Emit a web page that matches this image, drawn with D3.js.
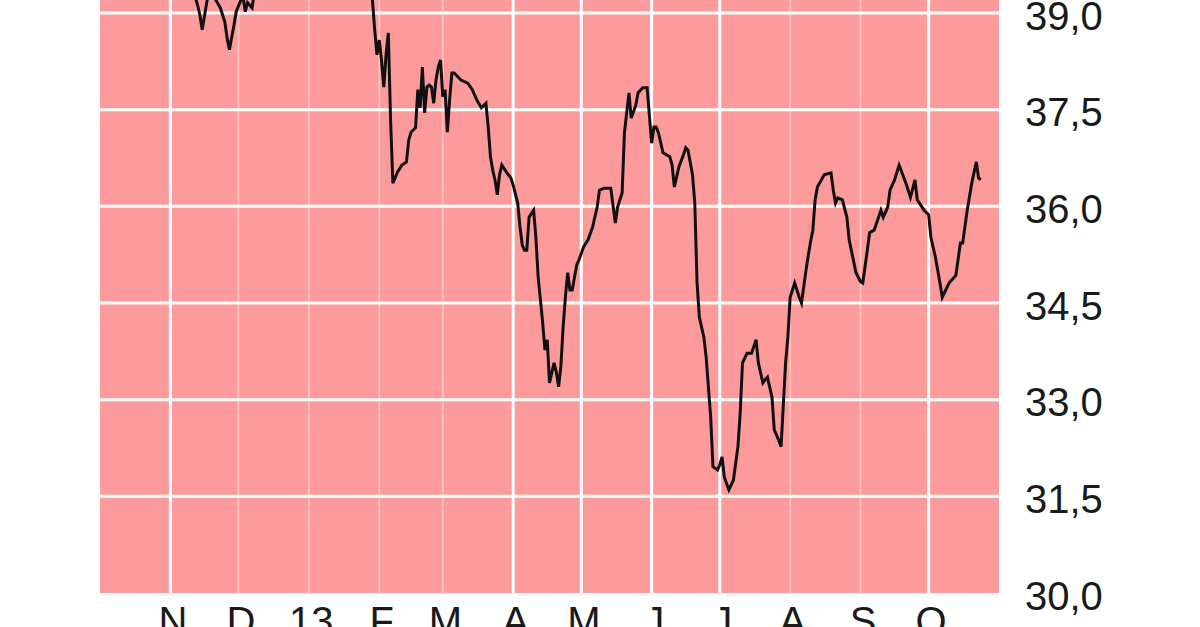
<!DOCTYPE html>
<html><head><meta charset="utf-8">
<script src="https://cdn.jsdelivr.net/npm/d3@7"></script>
<style>html,body{margin:0;padding:0;background:#fff;overflow:hidden}</style>
</head><body>
<svg id="c" width="1200" height="627"></svg>
<script>
const dates = ["2012-10-01","2012-10-05","2012-10-10","2012-10-14","2012-10-19","2012-10-23","2012-10-27","2012-11-01","2012-11-05","2012-11-09","2012-11-11","2012-11-13","2012-11-14","2012-11-15","2012-11-17","2012-11-18","2012-11-21","2012-11-23","2012-11-25","2012-11-26","2012-11-27","2012-11-29","2012-11-30","2012-12-02","2012-12-03","2012-12-04","2012-12-05","2012-12-07","2012-12-08","2012-12-11","2012-12-16","2012-12-20","2012-12-25","2012-12-29","2013-01-02","2013-01-07","2013-01-11","2013-01-16","2013-01-20","2013-01-24","2013-01-27","2013-01-29","2013-01-30","2013-01-31","2013-02-01","2013-02-02","2013-02-03","2013-02-04","2013-02-05","2013-02-06","2013-02-07","2013-02-08","2013-02-09","2013-02-11","2013-02-13","2013-02-14","2013-02-15","2013-02-17","2013-02-18","2013-02-19","2013-02-20","2013-02-21","2013-02-22","2013-02-23","2013-02-24","2013-02-25","2013-02-26","2013-02-27","2013-02-28","2013-03-01","2013-03-02","2013-03-03","2013-03-04","2013-03-05","2013-03-06","2013-03-09","2013-03-12","2013-03-14","2013-03-16","2013-03-18","2013-03-20","2013-03-21","2013-03-22","2013-03-23","2013-03-24","2013-03-25","2013-03-26","2013-03-27","2013-03-29","2013-03-31","2013-04-01","2013-04-03","2013-04-04","2013-04-05","2013-04-06","2013-04-07","2013-04-08","2013-04-10","2013-04-11","2013-04-12","2013-04-13","2013-04-14","2013-04-15","2013-04-16","2013-04-17","2013-04-19","2013-04-20","2013-04-21","2013-04-22","2013-04-23","2013-04-24","2013-04-25","2013-04-26","2013-04-27","2013-04-29","2013-04-30","2013-05-02","2013-05-04","2013-05-06","2013-05-08","2013-05-09","2013-05-11","2013-05-14","2013-05-16","2013-05-17","2013-05-19","2013-05-20","2013-05-22","2013-05-23","2013-05-25","2013-05-26","2013-05-28","2013-05-30","2013-06-01","2013-06-02","2013-06-03","2013-06-04","2013-06-06","2013-06-09","2013-06-10","2013-06-11","2013-06-13","2013-06-15","2013-06-16","2013-06-17","2013-06-19","2013-06-20","2013-06-21","2013-06-22","2013-06-24","2013-06-25","2013-06-27","2013-06-28","2013-06-30","2013-07-01","2013-07-02","2013-07-03","2013-07-05","2013-07-07","2013-07-09","2013-07-10","2013-07-11","2013-07-13","2013-07-15","2013-07-17","2013-07-18","2013-07-20","2013-07-21","2013-07-22","2013-07-24","2013-07-25","2013-07-27","2013-07-28","2013-07-30","2013-07-31","2013-08-01","2013-08-03","2013-08-05","2013-08-06","2013-08-08","2013-08-09","2013-08-10","2013-08-11","2013-08-12","2013-08-13","2013-08-16","2013-08-19","2013-08-20","2013-08-21","2013-08-22","2013-08-24","2013-08-26","2013-08-27","2013-08-30","2013-09-01","2013-09-02","2013-09-04","2013-09-05","2013-09-07","2013-09-10","2013-09-11","2013-09-13","2013-09-14","2013-09-16","2013-09-18","2013-09-21","2013-09-23","2013-09-25","2013-09-26","2013-09-29","2013-10-01","2013-10-02","2013-10-04","2013-10-06","2013-10-07","2013-10-10","2013-10-13","2013-10-15","2013-10-16","2013-10-18","2013-10-20","2013-10-22","2013-10-23","2013-10-24"];
const values = [39.82,40.06,39.74,40.13,39.90,40.29,39.98,39.67,39.90,39.51,39.36,39.12,38.97,38.74,39.16,39.33,39.20,39.08,38.86,38.61,38.43,38.81,39.02,39.20,39.25,39.02,39.16,39.08,39.33,39.59,39.43,39.82,39.67,40.06,39.74,39.98,39.67,39.90,39.59,39.43,39.28,39.20,38.74,38.35,38.58,38.27,37.85,38.35,38.69,37.34,36.36,36.44,36.53,36.64,36.69,37.03,37.15,37.22,37.81,37.53,38.16,37.45,37.85,37.88,37.85,37.60,37.96,38.16,38.27,37.70,37.81,37.15,37.65,38.07,38.07,37.96,37.91,37.81,37.65,37.53,37.60,37.23,36.77,36.56,36.41,36.18,36.49,36.64,36.53,36.44,36.33,36.05,35.68,35.40,35.32,35.32,35.83,35.94,35.52,34.90,34.55,34.19,33.77,33.93,33.26,33.57,33.43,33.20,33.51,34.13,34.59,34.97,34.70,34.70,35.09,35.17,35.37,35.48,35.68,35.99,36.25,36.28,36.28,35.74,35.99,36.21,37.14,37.76,37.37,37.57,37.76,37.84,37.84,36.98,37.23,37.23,37.14,36.83,36.77,36.64,36.30,36.61,36.80,36.91,36.87,36.49,36.05,34.81,34.28,33.97,33.66,32.73,31.96,31.91,31.99,32.11,31.80,31.60,31.75,32.27,32.79,33.57,33.72,33.72,33.93,33.57,33.26,33.31,33.35,33.04,32.53,32.37,32.27,33.57,33.97,34.59,34.81,34.59,34.50,35.01,35.24,35.45,35.63,36.10,36.30,36.49,36.52,36.25,36.05,36.13,36.10,35.83,35.48,34.97,34.83,34.81,35.32,35.59,35.63,35.94,35.83,35.99,36.25,36.41,36.64,36.36,36.14,36.41,36.10,35.94,35.87,35.52,35.21,34.81,34.59,34.81,34.93,35.43,35.43,35.94,36.36,36.69,36.44,36.41];
const monthTicks = ["2012-11-01","2012-12-01","2013-01-01","2013-02-01","2013-03-01","2013-04-01","2013-05-01","2013-06-01","2013-07-01","2013-08-01","2013-09-01","2013-10-01"];
const monthLabels = ["N","D","13","F","M","A","M","J","J","A","S","O"];
const strongMonth = [true,false,false,false,false,true,true,true,true,false,false,true];
const yTicks = [30,31.5,33,34.5,36,37.5,39];
const yLabels = ["30,0","31,5","33,0","34,5","36,0","37,5","39,0"];

const parse = d3.utcParse("%Y-%m-%d");
const data = dates.map((d,i)=>({date:parse(d), v:values[i]}));
const svg = d3.select("#c");
const x = d3.scaleUtc().domain([parse("2012-10-01"), parse("2013-11-01")]).range([100, 999]);
const y = d3.scaleLinear().domain([30, 39]).range([593, 13]);

svg.append("rect").attr("x", x.range()[0]).attr("y", y(40.6))
  .attr("width", x.range()[1]-x.range()[0]).attr("height", y(30)-y(40.6))
  .attr("fill", "#fd9b9c");

const g = svg.append("g");
g.selectAll("line.h").data(yTicks.slice(1)).join("line").attr("class","h")
  .attr("x1", x.range()[0]).attr("x2", x.range()[1])
  .attr("y1", d=>y(d)).attr("y2", d=>y(d))
  .attr("stroke", "#fff").attr("stroke-width", 3);
g.selectAll("line.v").data(monthTicks).join("line").attr("class","v")
  .attr("x1", d=>x(parse(d))).attr("x2", d=>x(parse(d)))
  .attr("y1", y(40.6)).attr("y2", y(30))
  .attr("stroke", "#fff")
  .attr("stroke-width", (d,i)=>strongMonth[i]?3:2)
  .attr("stroke-opacity", (d,i)=>strongMonth[i]?1:0.35);

svg.append("clipPath").attr("id","pc").append("rect")
  .attr("x", 100).attr("y", y(40.6)).attr("width", 899).attr("height", y(30)-y(40.6));

svg.append("path").datum(data)
  .attr("clip-path","url(#pc)")
  .attr("fill","none").attr("stroke","#111").attr("stroke-width",3)
  .attr("stroke-linejoin","miter")
  .attr("d", d3.line().x(d=>x(d.date)).y(d=>y(d.v)));

const yAxis = d3.axisRight(y).tickValues(yTicks)
  .tickFormat((d,i)=>yLabels[i]).tickSize(0).tickPadding(0);
const ya = svg.append("g").attr("transform","translate(1025,2)").call(yAxis);
ya.select(".domain").remove();
ya.selectAll("text").attr("font-family","'Liberation Sans', Arial, sans-serif")
  .attr("font-size", 40).attr("fill","#1a1a1a").attr("dy","0.35em");

const xAxis = d3.axisBottom(x).tickValues(monthTicks.map(parse))
  .tickFormat((d,i)=>monthLabels[i]).tickSize(0).tickPadding(0);
const xa = svg.append("g").attr("transform","translate(2,607)").call(xAxis);
xa.select(".domain").remove();
xa.selectAll("text").attr("font-family","'Liberation Sans', Arial, sans-serif")
  .attr("font-size", 40).attr("fill","#1a1a1a").attr("dy","0.71em");
</script>
</body></html>
